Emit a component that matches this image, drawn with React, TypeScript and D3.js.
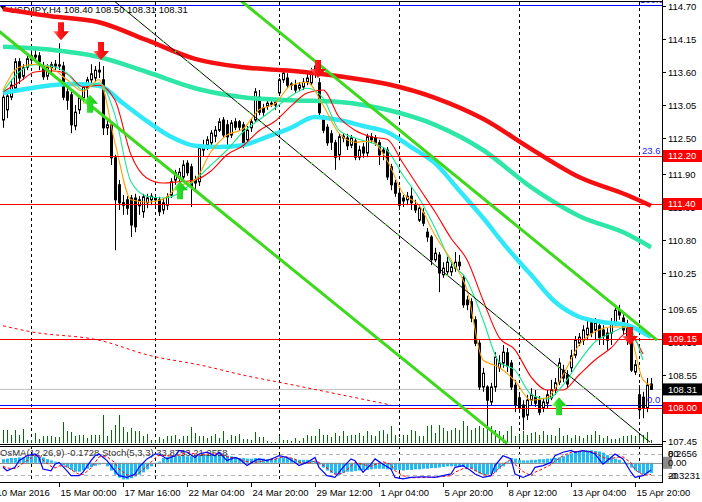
import * as d3 from "d3"
import { useEffect, useRef } from "react"

// USDJPY H4 candles: [open, high, low, close]
const candles: [number, number, number, number][] = [
  [112.80,113.25,112.67,113.18],[112.97,113.27,112.83,113.20],[113.18,113.47,113.13,113.38],[113.33,113.83,113.30,113.77],
  [113.77,113.83,113.40,113.50],[113.53,113.73,113.47,113.67],[113.68,113.88,113.63,113.82],[113.80,113.93,113.73,113.87],
  [113.85,113.97,113.80,113.88],[113.87,113.93,113.63,113.77],[113.70,113.77,113.47,113.52],[113.53,113.73,113.47,113.68],
  [113.67,113.77,113.57,113.72],[113.73,113.80,113.63,113.70],[113.70,114.08,113.63,113.72],[113.70,113.77,113.13,113.18],
  [113.27,113.33,112.97,113.13],[113.22,113.27,112.58,112.72],[112.70,113.05,112.63,112.93],[112.97,113.20,112.90,113.17],
  [113.17,113.40,113.08,113.35],[113.33,113.52,113.17,113.47],[113.47,113.73,113.40,113.57],[113.50,113.70,113.43,113.63],
  [113.60,113.77,113.50,113.63],[113.47,113.70,112.55,112.67],[112.67,112.83,112.55,112.72],[112.72,112.77,112.05,112.17],
  [112.17,112.22,110.63,111.47],[111.72,111.80,111.30,111.42],[111.42,111.55,111.22,111.38],[111.47,111.53,111.22,111.33],
  [111.50,111.55,110.85,111.05],[111.50,111.57,110.93,111.02],[111.37,111.53,111.22,111.47],[111.27,111.57,111.17,111.52],
  [111.42,111.57,111.33,111.50],[111.47,111.58,111.38,111.53],[111.50,111.55,111.37,111.47],[111.47,111.52,111.20,111.27],
  [111.30,111.50,111.23,111.42],[111.38,111.58,111.30,111.52],[111.55,111.83,111.50,111.77],[111.80,111.97,111.72,111.92],
  [111.83,112.00,111.77,111.93],[111.85,112.13,111.80,112.05],[112.08,112.13,111.87,111.92],[112.02,112.07,111.35,111.68],
  [111.80,111.87,111.63,111.75],[111.77,112.37,111.70,112.33],[112.30,112.47,112.20,112.37],[112.38,112.53,112.30,112.47],
  [112.42,112.63,112.37,112.58],[112.53,112.70,112.43,112.63],[112.63,112.83,112.60,112.77],[112.80,112.85,112.50,112.55],
  [112.72,112.80,112.35,112.52],[112.55,112.80,112.50,112.75],[112.77,112.83,112.63,112.68],[112.77,112.80,112.62,112.68],
  [112.72,112.77,112.33,112.42],[112.47,112.70,112.38,112.63],[112.67,112.83,112.60,112.77],[112.80,113.33,112.77,113.27],
  [113.18,113.30,112.88,112.93],[113.00,113.07,112.87,112.93],[113.03,113.13,112.97,113.08],[113.07,113.13,113.02,113.08],
  [113.05,113.15,112.97,113.10],[113.25,113.50,113.20,113.47],[113.47,113.63,113.42,113.58],[113.50,113.58,113.33,113.38],
  [113.38,113.43,113.30,113.40],[113.38,113.47,113.25,113.30],[113.33,113.43,113.28,113.38],[113.35,113.50,113.30,113.43],
  [113.43,113.57,113.38,113.50],[113.42,113.67,113.37,113.60],[113.58,113.80,113.50,113.70],[113.42,113.50,112.87,112.92],
  [112.83,112.88,112.58,112.63],[112.68,112.73,112.37,112.42],[112.57,112.63,112.30,112.43],[112.42,112.47,111.97,112.18],
  [112.22,112.58,112.13,112.52],[112.53,112.58,112.43,112.50],[112.50,112.57,112.30,112.37],[112.38,112.55,112.33,112.50],
  [112.45,112.50,112.13,112.18],[112.18,112.37,112.13,112.30],[112.35,112.42,112.17,112.25],[112.25,112.57,112.18,112.52],
  [112.52,112.58,112.42,112.47],[112.50,112.55,112.37,112.42],[112.42,112.47,112.05,112.22],[112.30,112.35,112.13,112.25],
  [112.30,112.35,111.80,111.85],[112.02,112.07,111.63,111.72],[111.75,111.80,111.52,111.58],[111.58,111.63,111.30,111.38],
  [111.50,111.55,111.35,111.45],[111.47,111.60,111.38,111.53],[111.53,111.68,111.30,111.42],[111.38,111.47,111.25,111.30],
  [111.13,111.38,111.10,111.33],[111.25,111.33,111.03,111.08],[110.93,111.00,110.77,110.85],[110.85,110.88,110.38,110.47],
  [110.47,110.67,110.43,110.58],[110.55,110.60,109.93,110.25],[110.22,110.43,110.17,110.33],[110.27,110.52,110.20,110.43],
  [110.27,110.43,110.20,110.35],[110.33,110.60,110.27,110.43],[110.43,110.55,110.30,110.37],[110.17,110.22,109.67,109.72],
  [109.80,109.87,109.63,109.72],[109.77,109.83,109.43,109.50],[109.47,109.53,109.03,109.08],[109.08,109.13,108.30,108.35],
  [108.35,108.67,108.27,108.58],[108.35,108.38,107.68,108.13],[108.10,108.42,108.05,108.35],[108.35,108.93,108.27,108.85],
  [108.67,108.88,108.60,108.75],[108.75,109.05,108.67,108.93],[108.92,109.00,108.60,108.70],[108.75,108.80,108.30,108.35],
  [108.38,108.47,107.93,108.05],[108.17,108.22,107.93,108.00],[108.05,108.13,107.63,107.85],[107.88,108.22,107.80,108.13],
  [108.13,108.33,108.05,108.22],[108.18,108.30,108.02,108.08],[108.13,108.20,107.88,107.93],[108.00,108.17,107.93,108.10],
  [108.08,108.30,108.00,108.22],[108.17,108.47,108.13,108.30],[108.30,108.50,108.22,108.42],[108.43,108.83,108.38,108.75],
  [108.63,108.72,108.43,108.50],[108.55,108.63,108.33,108.40],[108.67,108.97,108.60,108.87],[108.88,109.20,108.83,109.13],
  [109.08,109.25,109.03,109.18],[109.13,109.38,109.05,109.30],[109.22,109.47,109.13,109.33],[109.42,109.50,109.18,109.25],
  [109.30,109.50,109.13,109.42],[109.37,109.47,109.05,109.17],[109.30,109.38,109.05,109.20],[109.25,109.33,108.97,109.13],
  [109.25,109.50,109.05,109.42],[109.42,109.72,109.37,109.63],[109.63,109.72,109.47,109.55],[109.50,109.60,109.22,109.30],
  [109.38,109.47,109.05,109.13],[109.13,109.20,108.60,108.63],[108.60,108.80,108.55,108.72],[108.22,108.38,107.85,107.97],
  [108.18,108.27,107.83,108.00],[108.00,108.50,107.93,108.38],[108.40,108.50,108.31,108.31],
]

const volumes = [
  5200,5200,3200,5200,3200,5600,1200,1200,4000,1600,2800,2800,2800,2400,2400,8400,4800,4400,2800,3200,
  3200,2000,3200,3200,3200,11200,2800,5200,7200,11200,6400,4400,6000,4800,4800,2800,3600,1200,800,2400,
  1600,2800,2800,3200,1600,2800,2800,6400,4000,2800,2800,2000,2800,3600,2000,4800,1200,3200,2800,3600,
  1600,1600,1200,4400,2400,2400,800,400,400,2800,1200,1200,800,2000,800,2000,3200,2800,2800,5600,
  3200,3200,2400,4000,2800,4800,2800,
  3200,3200,4000,2800,4800,3200,2800,4800,5200,3600,6800,3200,2000,3200,3200,5200,4800,2800,2800,6800,
  7200,4000,7200,6000,4800,5200,6000,5200,8800,6800,5200,6000,6800,6000,9200,6800,5200,4800,3200,4800,
  6800,2800,3200,4800,3200,4000,4400,3200,4800,3200,3200,2800,6000,2800,3200,2000,3200,2800,2000,3200,
  3200,4800,3200,2000,2800,1600,1600,2000,2800,2800,3200,2800,3200,3200,4400,1200,
]

// moving averages, sampled by bar
const slowBars = [0, 12, 24, 36, 48, 60, 72, 84, 96, 108, 120, 132, 144, 156, 162]
const ma200 = [114.65,114.53,114.43,114.13,113.82,113.68,113.62,113.53,113.40,113.17,112.82,112.32,111.85,111.55,111.37]
const ma144 = [114.02,113.97,113.85,113.60,113.33,113.18,113.13,113.10,112.97,112.72,112.30,111.68,111.20,110.90,110.68]

const cyanBars = [0,6,12,18,24,30,36,42,48,54,60,66,72,78,84,90,96,102,108,114,120,126,132,138,144,150,156,162]
const ma55 = [113.25,113.32,113.38,113.40,113.37,113.08,112.78,112.52,112.37,112.35,112.38,112.52,112.67,112.85,
  112.80,112.70,112.60,112.35,112.08,111.63,111.17,110.67,110.22,109.77,109.52,109.43,109.38,109.18]

const fastBars = [0,4,8,12,16,20,24,28,32,36,40,44,48,52,56,60,64,68,72,76,80,84,88,92,96,100,104,108,112,116,120,124,128,132,136,140,144,148,152,156,160,162]
const ma5 = [113.30,113.68,113.73,113.67,113.47,113.28,113.47,112.42,111.47,111.43,111.48,111.70,111.80,112.27,112.55,
  112.65,112.97,113.07,113.38,113.43,113.05,112.58,112.43,112.45,112.13,111.58,111.38,110.88,110.47,109.97,108.80,
  108.68,108.45,108.13,108.17,108.55,109.05,109.27,109.35,109.35,108.47,108.38]
const ma8 = [113.27,113.60,113.72,113.70,113.58,113.30,113.42,112.88,111.77,111.53,111.50,111.58,111.80,112.05,112.30,
  112.60,112.80,113.00,113.20,113.33,113.17,112.63,112.50,112.42,112.30,111.88,111.50,111.00,110.43,110.13,109.47,
  108.77,108.63,108.23,108.15,108.38,108.77,109.10,109.25,109.35,108.80]
const ma21 = [113.27,113.43,113.60,113.62,113.57,113.35,113.38,113.13,112.22,111.83,111.75,111.77,111.80,111.95,112.22,
  112.37,112.62,112.78,113.03,113.25,113.30,112.85,112.63,112.52,112.48,112.08,111.67,111.27,110.83,110.47,109.80,
  109.18,108.97,108.52,108.30,108.30,108.55,108.80,109.00,109.25,108.90]

const dailyMaBars = [0, 7, 24, 37, 49, 62, 69, 86, 97]
const dailyMa = [109.37, 109.27, 109.13, 108.87, 108.72, 108.52, 108.43, 108.20, 108.05]

// horizontal levels
const resistance = [112.20, 111.40, 109.15, 108.00]
const fibLevels = [114.72, 108.05]
const lastPrice = 108.31

// trend lines: [bar1, price1, bar2, price2]
const channelLines: [number, number, number, number][] = [
  [-1, 114.28, 126, 107.41],
  [59.25, 114.8, 163.5, 109.13],
]
const thinLines: [number, number, number, number][] = [[27.5, 114.8, 161.75, 107.43]]

// signal arrows
const sellBars = [14.5, 24.5, 78.75, 156.75]
const sellPrices = [114.13, 113.8, 113.5, 109.05]
const buyBars = [21.75, 44.25, 139]
const buyPrices = [113.22, 111.78, 108.18]

// OsMA histogram per bar
const osma = [
  0.06,0.07,0.08,0.08,0.09,0.09,0.10,0.11,0.11,0.10,0.09,0.06,0.04,0.02,-0.01,-0.04,-0.08,-0.12,-0.15,-0.15,
  -0.13,-0.10,-0.07,-0.05,-0.03,-0.02,-0.06,-0.13,-0.20,-0.25,-0.28,-0.28,-0.26,-0.23,-0.20,-0.16,-0.11,-0.06,-0.02,0.02,
  0.08,0.10,0.12,0.12,0.12,0.12,0.11,0.11,0.12,0.12,0.13,0.13,0.14,0.13,0.14,0.13,0.12,0.11,0.09,0.08,
  0.08,0.07,0.07,0.08,0.07,0.07,0.06,0.06,0.07,0.08,0.09,0.09,0.08,0.06,0.05,0.05,0.05,0.04,0.02,-0.03,
  -0.08,-0.13,-0.17,-0.19,-0.20,-0.17,-0.15,-0.15,-0.14,-0.13,-0.12,-0.12,-0.11,-0.10,-0.10,-0.10,-0.11,-0.12,-0.12,-0.12,
  -0.13,-0.12,-0.12,-0.11,-0.11,-0.10,-0.10,-0.09,-0.09,-0.08,-0.07,-0.06,-0.06,-0.06,-0.06,-0.07,-0.08,-0.10,-0.14,-0.18,
  -0.20,-0.20,-0.19,-0.16,-0.10,-0.06,0.02,0.08,0.07,0.05,0.04,0.04,0.05,0.05,0.06,0.06,0.07,0.07,0.08,0.09,
  0.11,0.14,0.16,0.18,0.20,0.21,0.21,0.21,0.20,0.19,0.17,0.13,0.10,0.07,0.05,0.01,-0.03,-0.08,-0.13,-0.17,
  -0.19,-0.18,-0.17,
]

const stochBars = [0,1,3,4,6,8,9,10,12,13,14,16,17,19,20,22,23,24,26,28,29,31,33,34,36,38,39,41,43,44,46,48,49,51,53,54,
  56,58,59,61,63,64,66,68,69,71,73,74,76,78,79,81,83,85,87,88,90,92,93,95,97,98,100,102,105,108,112,113,115,117,118,
  120,122,123,125,127,128,130,132,133,135,137,138,140,142,143,145,147,148,150,152,153,155,157,158,160,162]
const stochMain = [42,32,42,61,75,80,70,37,32,51,56,32,18,18,28,61,75,80,61,32,18,13,23,42,66,80,80,66,75,90,85,70,80,85,
  75,85,61,70,66,47,61,66,61,70,75,70,56,47,56,70,42,18,13,42,66,61,28,51,66,51,37,13,9,13,15,13,23,42,47,32,23,13,18,
  47,75,66,23,13,23,42,47,56,75,85,90,85,90,85,80,51,70,80,66,28,13,18,34]
const stochSignal = [45,40,38,45,62,75,76,62,45,40,46,45,35,22,21,40,55,72,72,55,37,20,17,26,45,68,76,75,73,77,85,80,78,80,
  80,82,72,68,66,58,56,58,62,65,70,72,65,57,53,60,56,40,22,25,45,56,50,45,50,58,50,32,18,12,13,14,18,28,38,40,33,22,17,
  28,50,65,50,30,18,28,38,50,60,75,85,87,88,87,84,70,65,70,72,55,35,20,21]

const priceTicks = [114.70,114.15,113.60,113.05,112.50,111.90,111.35,110.80,110.25,109.65,109.10,108.55,108.00,107.45]
const gridBars = [7, 38, 69, 99, 129, 159]
const timeBars = [-2, 14, 30, 46, 62, 78, 94, 110, 126, 142, 158]
const timeLabels = ["10 Mar 2016","15 Mar 00:00","17 Mar 16:00","22 Mar 04:00","24 Mar 20:00","29 Mar 12:00",
  "1 Apr 04:00","5 Apr 20:00","8 Apr 12:00","13 Apr 04:00","15 Apr 20:00"]

const FONT = "'Liberation Sans', Arial, sans-serif"

function arrowPath(cx: number, ty: number, dir: number) {
  const d = dir
  return `M${cx},${ty} L${cx + 8},${ty - 9 * d} L${cx + 3},${ty - 9 * d} L${cx + 3},${ty - 18 * d} ` +
    `L${cx - 3},${ty - 18 * d} L${cx - 3},${ty - 9 * d} L${cx - 8},${ty - 9 * d} Z`
}

export default function App() {
  const ref = useRef<SVGSVGElement | null>(null)

  useEffect(() => {
    if (!ref.current) return
    const width = 702
    const height = 502
    const plotR = 662
    const mainTop = 2
    const mainBottom = 444
    const subTop = 447
    const subBottom = 482

    const svg = d3.select(ref.current)
    svg.selectAll("*").remove()
    svg.attr("width", width).attr("height", height).attr("viewBox", `0 0 ${width} ${height}`)

    const x = d3.scaleLinear().domain([0, 162]).range([3, 651])
    const y = d3.scaleLinear().domain([107.45, 114.7]).range([441, 6])
    const yVol = d3.scaleLinear().domain([0, 12000]).range([443, 413])
    const yStoch = d3.scaleLinear().domain([0, 100]).range([subBottom, subTop])
    const yOsma = d3.scaleLinear().domain([-0.3231, 0.2656]).range([subBottom, subTop])

    const defs = svg.append("defs")
    defs.append("clipPath").attr("id", "mainClip").append("rect")
      .attr("x", 0).attr("y", mainTop).attr("width", plotR).attr("height", mainBottom - mainTop)
    defs.append("clipPath").attr("id", "subClip").append("rect")
      .attr("x", 0).attr("y", subTop).attr("width", plotR).attr("height", subBottom - subTop)
    const gr = defs.append("linearGradient").attr("id", "redArrow")
    gr.append("stop").attr("offset", "0%").attr("stop-color", "#ff9a9a")
    gr.append("stop").attr("offset", "35%").attr("stop-color", "#ff1c1c")
    gr.append("stop").attr("offset", "100%").attr("stop-color", "#e80000")
    const gg = defs.append("linearGradient").attr("id", "greenArrow")
    gg.append("stop").attr("offset", "0%").attr("stop-color", "#e8ff70")
    gg.append("stop").attr("offset", "35%").attr("stop-color", "#30e030")
    gg.append("stop").attr("offset", "100%").attr("stop-color", "#10c810")

    svg.append("rect").attr("width", width).attr("height", height).attr("fill", "#fff")

    // vertical dashed grid through both panes
    svg.append("g")
      .selectAll("line")
      .data(gridBars)
      .join("line")
      .attr("x1", (b) => Math.round(x(b)) + 0.5)
      .attr("x2", (b) => Math.round(x(b)) + 0.5)
      .attr("y1", mainTop)
      .attr("y2", subBottom)
      .attr("stroke", "#000")
      .attr("stroke-dasharray", "3,3")

    const main = svg.append("g").attr("clip-path", "url(#mainClip)")

    // header
    main.append("path").attr("d", "M0,6 L6,6 L3,10 Z").attr("fill", "#000")
    main.append("text")
      .attr("x", 10).attr("y", 13)
      .attr("font-family", FONT).attr("font-size", 9.5).attr("fill", "#000")
      .text("USDJPY,H4  108.40 108.50 108.31 108.31")

    // volumes
    main.append("g")
      .selectAll("line")
      .data(volumes)
      .join("line")
      .attr("x1", (_, i) => x(i) + 0.5)
      .attr("x2", (_, i) => x(i) + 0.5)
      .attr("y1", yVol(0))
      .attr("y2", (v) => yVol(v))
      .attr("stroke", "#007000")

    // horizontal levels
    main.append("line")
      .attr("x1", 0).attr("x2", plotR)
      .attr("y1", y(lastPrice)).attr("y2", y(lastPrice))
      .attr("stroke", "#c0c0c0")
    main.append("g")
      .selectAll("line")
      .data(fibLevels)
      .join("line")
      .attr("x1", 0).attr("x2", plotR)
      .attr("y1", (p) => Math.round(y(p)) + 0.5)
      .attr("y2", (p) => Math.round(y(p)) + 0.5)
      .attr("stroke", "#0000ff")

    // candles
    const cg = main.append("g")
    candles.forEach(([o, h, l, c], i) => {
      const cx = x(i)
      cg.append("line")
        .attr("x1", cx + 0.5).attr("x2", cx + 0.5)
        .attr("y1", y(h)).attr("y2", y(l))
        .attr("stroke", "#000")
      const top = Math.min(y(o), y(c))
      const bh = Math.max(Math.abs(y(o) - y(c)), 1)
      cg.append("rect")
        .attr("x", cx - 0.5).attr("width", 2)
        .attr("y", top).attr("height", bh)
        .attr("fill", c >= o ? "#fff" : "#000")
        .attr("stroke", "#000")
    })

    const maLine = (bars: number[]) =>
      d3.line<number>()
        .x((_, i) => x(bars[i]))
        .y((p) => y(p))
        .curve(d3.curveMonotoneX)

    main.append("path")
      .attr("d", maLine(dailyMaBars)(dailyMa))
      .attr("fill", "none").attr("stroke", "#ff0000")
      .attr("stroke-dasharray", "3,3")

    const thick = [
      { bars: cyanBars, vals: ma55, color: "#30e8f8" },
      { bars: slowBars, vals: ma144, color: "#2ee6a6" },
      { bars: slowBars, vals: ma200, color: "#f41010" },
    ]
    thick.forEach((m) => {
      main.append("path")
        .attr("d", maLine(m.bars)(m.vals))
        .attr("fill", "none").attr("stroke", m.color)
        .attr("stroke-width", 4.5)
    })
    const thin = [
      { vals: ma21, color: "#ff0000" },
      { vals: ma8, color: "#14e890" },
      { vals: ma5, color: "#ffa000" },
    ]
    thin.forEach((m) => {
      main.append("path")
        .attr("d", maLine(fastBars)(m.vals))
        .attr("fill", "none").attr("stroke", m.color)
        .attr("stroke-width", 1.1)
    })

    // red levels on top
    main.append("g")
      .selectAll("line")
      .data(resistance)
      .join("line")
      .attr("x1", 0).attr("x2", plotR)
      .attr("y1", (p) => Math.round(y(p)) + 0.5)
      .attr("y2", (p) => Math.round(y(p)) + 0.5)
      .attr("stroke", "#ff0000")

    // trend lines
    main.append("g")
      .selectAll("line")
      .data(channelLines)
      .join("line")
      .attr("x1", (d) => x(d[0])).attr("y1", (d) => y(d[1]))
      .attr("x2", (d) => x(d[2])).attr("y2", (d) => y(d[3]))
      .attr("stroke", "#3cd91c").attr("stroke-width", 3)
    main.append("g")
      .selectAll("line")
      .data(thinLines)
      .join("line")
      .attr("x1", (d) => x(d[0])).attr("y1", (d) => y(d[1]))
      .attr("x2", (d) => x(d[2])).attr("y2", (d) => y(d[3]))
      .attr("stroke", "#000").attr("stroke-width", 1)
    main.append("g")
      .selectAll("line")
      .data(thinLines)
      .join("line")
      .attr("x1", (d) => x(d[0])).attr("y1", (d) => y(d[1]))
      .attr("x2", (d) => x(d[2])).attr("y2", (d) => y(d[3]))
      .attr("stroke", "#40e020").attr("stroke-width", 1.4)
      .attr("stroke-dasharray", "2,14")

    // arrows
    main.append("g")
      .selectAll("path")
      .data(sellBars)
      .join("path")
      .attr("d", (b, i) => arrowPath(x(b), y(sellPrices[i]), 1))
      .attr("fill", "url(#redArrow)")
    main.append("g")
      .selectAll("path")
      .data(buyBars)
      .join("path")
      .attr("d", (b, i) => arrowPath(x(b), y(buyPrices[i]), -1))
      .attr("fill", "url(#greenArrow)")

    // fibo labels
    const fibText = [
      { t: "100.0", px: 640, py: 3 },
      { t: "23.6", px: 642, py: y(112.2) - 2 },
      { t: "0.0", px: 647, py: y(108.05) - 2 },
    ]
    main.append("g")
      .selectAll("text")
      .data(fibText)
      .join("text")
      .attr("x", (d) => d.px).attr("y", (d) => d.py)
      .attr("font-family", FONT).attr("font-size", 9.5).attr("fill", "#2020ff")
      .text((d) => d.t)

    // sub window
    const sub = svg.append("g").attr("clip-path", "url(#subClip)")
    sub.append("g")
      .selectAll("line")
      .data([80, 20])
      .join("line")
      .attr("x1", 0).attr("x2", plotR)
      .attr("y1", (v) => Math.round(yStoch(v)) + 0.5)
      .attr("y2", (v) => Math.round(yStoch(v)) + 0.5)
      .attr("stroke", "#b4b4b4").attr("stroke-dasharray", "4,3")
    sub.append("g")
      .selectAll("rect")
      .data(osma)
      .join("rect")
      .attr("x", (_, i) => x(i) - 1)
      .attr("width", 3)
      .attr("y", (v) => Math.min(yOsma(v), yOsma(0)))
      .attr("height", (v) => Math.abs(yOsma(v) - yOsma(0)))
      .attr("fill", "#1ebcf4")
    sub.append("line")
      .attr("x1", 0).attr("x2", plotR)
      .attr("y1", Math.round(yOsma(0)) + 0.5).attr("y2", Math.round(yOsma(0)) + 0.5)
      .attr("stroke", "#909090")
    sub.append("text")
      .attr("x", 0).attr("y", 456)
      .attr("font-family", FONT).attr("font-size", 9.5).attr("fill", "#333")
      .text("OsMA(12,26,9) -0.1728  Stoch(5,3,3) 33.8753 21.2558")
    const stLine = d3.line<number>()
      .x((_, i) => x(stochBars[i]))
      .y((v) => yStoch(v))
    sub.append("path")
      .attr("d", stLine(stochSignal))
      .attr("fill", "none").attr("stroke", "#ff0000")
      .attr("stroke-dasharray", "3,2")
    sub.append("path")
      .attr("d", stLine(stochMain))
      .attr("fill", "none").attr("stroke", "#0000ff")
      .attr("stroke-width", 1.2)

    // frames
    const frame = svg.append("g").attr("stroke", "#000").attr("fill", "none")
    frame.append("line").attr("x1", 0).attr("x2", plotR + 0.5).attr("y1", 1.5).attr("y2", 1.5)
    frame.append("line").attr("x1", 0).attr("x2", plotR + 0.5).attr("y1", 444.5).attr("y2", 444.5)
    frame.append("line").attr("x1", 0).attr("x2", plotR + 0.5).attr("y1", 446.5).attr("y2", 446.5)
    frame.append("line").attr("x1", 0).attr("x2", plotR + 0.5).attr("y1", 482.5).attr("y2", 482.5)
    frame.append("line").attr("x1", plotR + 0.5).attr("x2", plotR + 0.5).attr("y1", 0).attr("y2", 483)

    // price axis
    const axis = svg.append("g").attr("font-family", FONT).attr("font-size", 9.5)
    priceTicks.forEach((p) => {
      const py = Math.round(y(p)) + 0.5
      axis.append("line").attr("x1", plotR).attr("x2", plotR + 4)
        .attr("y1", py).attr("y2", py).attr("stroke", "#000")
      axis.append("text").attr("x", 668).attr("y", py).attr("dy", "0.35em")
        .attr("fill", "#000").text(p.toFixed(2))
    })
    const boxes = [
      ...resistance.map((p) => ({ p, fill: "#ff0000" })),
      { p: lastPrice, fill: "#000" },
    ]
    boxes.forEach((b) => {
      const py = y(b.p)
      axis.append("rect").attr("x", plotR + 1).attr("y", py - 6)
        .attr("width", width - plotR - 1).attr("height", 12).attr("fill", b.fill)
      axis.append("text").attr("x", 668).attr("y", py).attr("dy", "0.35em")
        .attr("fill", "#fff").text(b.p.toFixed(2))
    })

    // sub axis labels
    axis.append("rect").attr("x", plotR + 1).attr("y", yOsma(0) - 6)
      .attr("width", 9).attr("height", 12).attr("fill", "#8c8c8c")
    const subLabels = [
      { t: "80", py: yStoch(80) },
      { t: "0.2656", py: yStoch(80) },
      { t: "0.00", py: yOsma(0) },
      { t: "20", py: yStoch(20) + 1 },
      { t: "-0.3231", py: yStoch(20) + 1 },
    ]
    subLabels.forEach((d) => {
      axis.append("text").attr("x", 668).attr("y", d.py).attr("dy", "0.35em")
        .attr("fill", "#000").text(d.t)
    })

    // time axis
    timeBars.forEach((b, i) => {
      const tx = Math.round(x(b)) + 0.5
      axis.append("line").attr("x1", tx).attr("x2", tx)
        .attr("y1", 483).attr("y2", 487).attr("stroke", "#000")
      axis.append("text").attr("x", tx + 1).attr("y", 496)
        .attr("fill", "#000").text(timeLabels[i])
    })
  }, [])

  return <svg ref={ref} style={{ position: "absolute", left: 0, top: 0, display: "block" }} />
}
